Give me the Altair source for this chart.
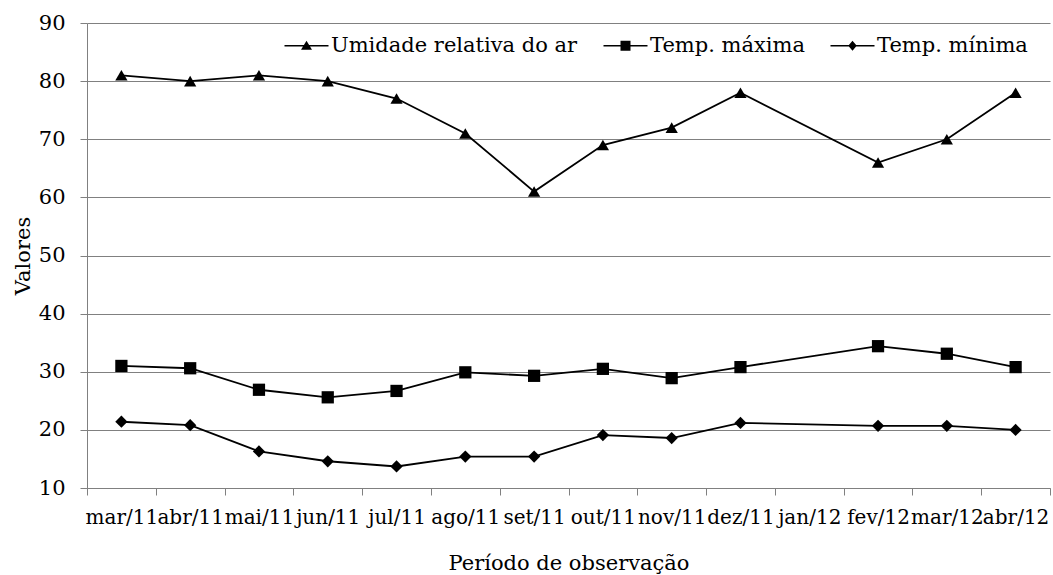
import altair as alt
import pandas as pd

meses = ["mar/11", "abr/11", "mai/11", "jun/11", "jul/11", "ago/11", "set/11",
         "out/11", "nov/11", "dez/11", "jan/12", "fev/12", "mar/12", "abr/12"]
series = ["Umidade relativa do ar", "Temp. máxima", "Temp. mínima"]

umidade = [81, 80, 81, 80, 77, 71, 61, 69, 72, 78, None, 66, 70, 78]
temp_max = [31.0, 30.6, 26.9, 25.6, 26.7, 29.9, 29.3, 30.5, 28.9, 30.8, None, 34.4, 33.1, 30.8]
temp_min = [21.4, 20.8, 16.3, 14.6, 13.7, 15.4, 15.4, 19.1, 18.6, 21.2, None, 20.7, 20.7, 20.0]

rows = []
for nome, vals in zip(series, [umidade, temp_max, temp_min]):
    for m, v in zip(meses, vals):
        if v is not None:
            rows.append({"mes": m, "serie": nome, "valor": v})
df = pd.DataFrame(rows)

FONT = "DejaVu Serif"
GRAY = "#808080"

x = alt.X("mes:N", sort=meses, bandPosition=0.5,
          scale=alt.Scale(type="band", domain=meses, paddingInner=0, paddingOuter=0),
          axis=alt.Axis(title="Período de observação", labelAngle=0, labelOverlap=False,
                        tickBand="extent", tickSize=7, tickColor=GRAY, domainColor=GRAY,
                        labelFont=FONT, labelFontSize=20, labelColor="black", labelPadding=12,
                        titleFont=FONT, titleFontSize=21, titleFontWeight="normal",
                        titleColor="black", titlePadding=25, grid=False))
y = alt.Y("valor:Q",
          scale=alt.Scale(domain=[10, 90], nice=False, zero=False),
          axis=alt.Axis(title="Valores", values=list(range(10, 91, 10)),
                        grid=True, gridColor=GRAY, gridWidth=1, gridOpacity=1,
                        tickSize=7, tickColor=GRAY, domainColor=GRAY,
                        labelFont=FONT, labelFontSize=21, labelColor="black", labelPadding=15,
                        titleFont=FONT, titleFontSize=21, titleFontWeight="normal",
                        titleColor="black", titlePadding=5))

base = alt.Chart(df)

linhas = base.mark_line(color="black", strokeWidth=1.8).encode(
    x=x, y=y, detail="serie:N")

pontos = base.mark_point(filled=True, color="black", opacity=1).encode(
    x=x, y=y,
    shape=alt.Shape("serie:N", scale=alt.Scale(domain=series,
                    range=["triangle-up", "square", "diamond"]), legend=None),
    size=alt.Size("serie:N", scale=alt.Scale(domain=series, range=[150, 150, 120]),
                  legend=None))

BAR = "M-4.4,-0.16H4.4V0.16H-4.4Z"
leg_paths = [
    BAR + "M-1.1,0.8L0,-1L1.1,0.8Z",
    BAR + "M-1,-1H1V1H-1Z",
    BAR + "M0,-1L0.85,0L0,1L-0.85,0Z",
]
legenda = base.mark_point(filled=True, color="black", opacity=0).encode(
    x=x, y=y,
    shape=alt.Shape("serie:N", scale=alt.Scale(domain=series, range=leg_paths),
                    legend=alt.Legend(title=None, orient="none", direction="horizontal",
                                      legendX=199, legendY=12, padding=0,
                                      columnPadding=22, symbolSize=100,
                                      symbolOffset=10, labelOffset=14,
                                      symbolFillColor="black", symbolOpacity=1,
                                      labelFont=FONT, labelFontSize=21, labelColor="black",
                                      labelLimit=400)))

chart = alt.layer(linhas, pontos, legenda).resolve_scale(shape="independent").properties(
    width=963, height=465,
    autosize=alt.AutoSizeParams(type="none"),
    padding={"left": 87, "top": 23, "right": 3, "bottom": 87},
    background="white",
).configure_view(stroke=None)

chart.save("out.html", embed_options={"renderer": "svg", "actions": False})
